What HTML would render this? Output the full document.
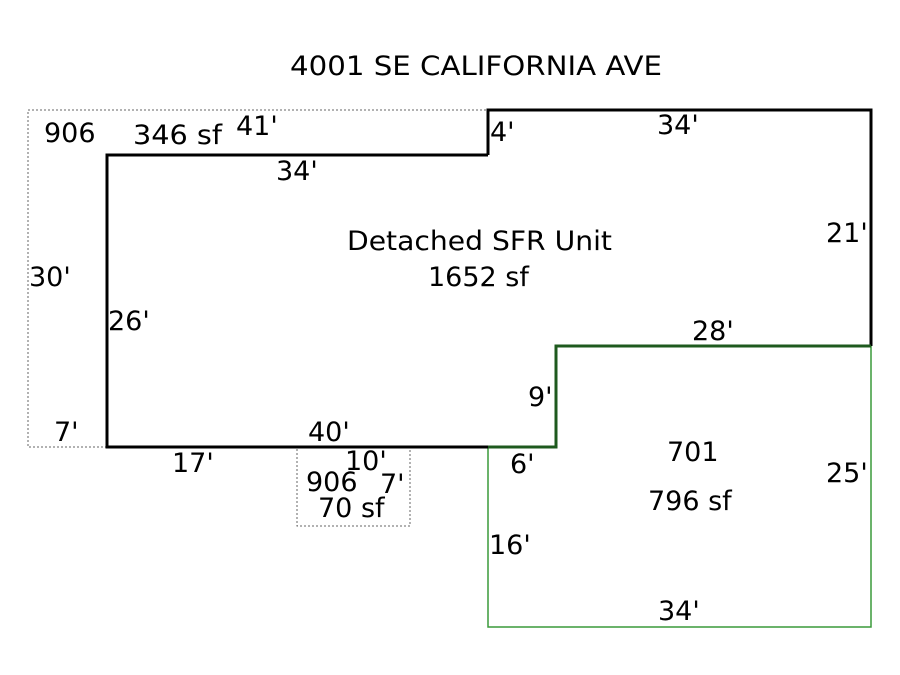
<!DOCTYPE html>
<html><head><style>body{margin:0;background:#fff}svg{display:block}text{font-family:"DejaVu Sans","Liberation Sans",sans-serif;font-size:27px;fill:#000}</style></head>
<body>
<svg width="900" height="675" viewBox="0 0 900 675">
<rect width="900" height="675" fill="#fff"/>
<polyline points="107,447 28,447 28,110 488,110" fill="none" stroke="#666" stroke-width="1" stroke-dasharray="2,2"/>
<rect x="297" y="447" width="113" height="79" fill="none" stroke="#666" stroke-width="1" stroke-dasharray="2,2"/>
<polyline points="488,447 488,627 871,627 871,346" fill="none" stroke="#3a9a3a" stroke-width="1.5"/>
<polyline points="488,155 107,155 107,447 488,447" fill="none" stroke="#000" stroke-width="3"/>
<polyline points="488,155 488,110 871,110 871,346" fill="none" stroke="#000" stroke-width="3"/>
<polyline points="488,447 556,447 556,346 871,346" fill="none" stroke="#1e5a1e" stroke-width="3"/>
<text x="290" y="75" textLength="372" lengthAdjust="spacingAndGlyphs">4001 SE CALIFORNIA AVE</text>
<text x="44" y="142">906</text>
<text x="133" y="144" textLength="89" lengthAdjust="spacingAndGlyphs">346 sf</text>
<text x="236" y="135">41'</text>
<text x="490" y="141">4'</text>
<text x="657" y="134">34'</text>
<text x="276" y="180">34'</text>
<text x="347" y="250" textLength="265" lengthAdjust="spacingAndGlyphs">Detached SFR Unit</text>
<text x="428" y="286">1652 sf</text>
<text x="826" y="242">21'</text>
<text x="29" y="286">30'</text>
<text x="108" y="330">26'</text>
<text x="692" y="340">28'</text>
<text x="528" y="406">9'</text>
<text x="54" y="441">7'</text>
<text x="308" y="441">40'</text>
<text x="172" y="472">17'</text>
<text x="345" y="470">10'</text>
<text x="306" y="491">906</text>
<text x="380" y="493">7'</text>
<text x="318" y="517">70 sf</text>
<text x="510" y="473">6'</text>
<text x="667" y="461">701</text>
<text x="648" y="510">796 sf</text>
<text x="826" y="482">25'</text>
<text x="489" y="554">16'</text>
<text x="658" y="620">34'</text>
</svg>
</body></html>
